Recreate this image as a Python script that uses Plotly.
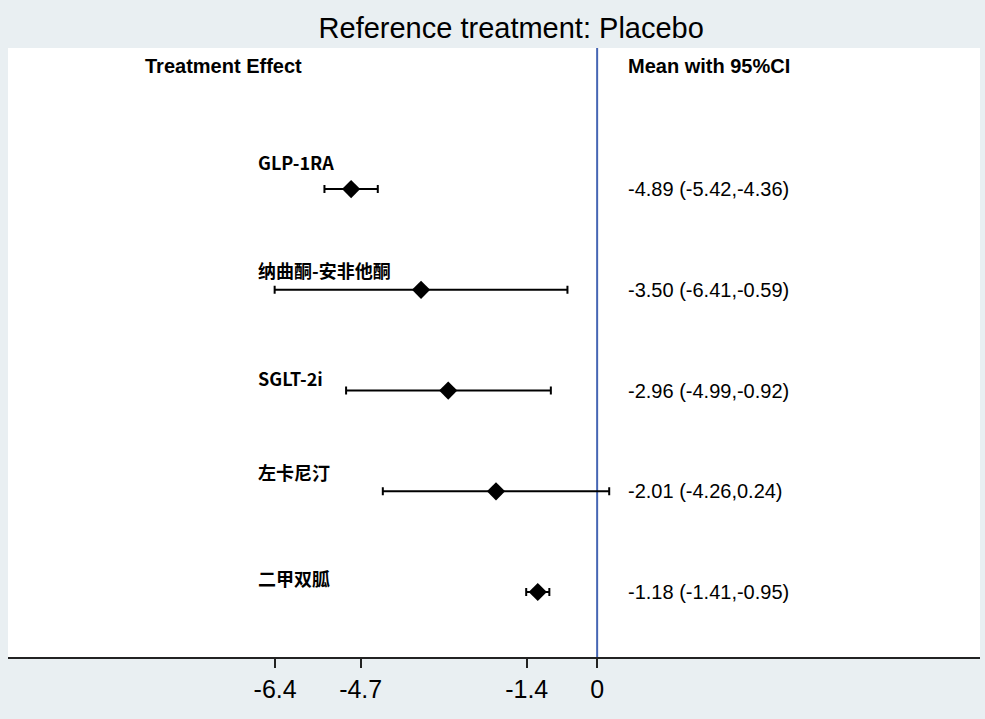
import plotly.graph_objects as go

treatments = ["GLP-1RA", "纳曲酮-安非他酮", "SGLT-2i", "左卡尼汀", "二甲双胍"]
means = [-4.89, -3.50, -2.96, -2.01, -1.18]
lower = [-5.42, -6.41, -4.99, -4.26, -1.41]
upper = [-4.36, -0.59, -0.92, 0.24, -0.95]
tick_vals = [-6.4, -4.7, -1.4, 0]
tick_text = ["-6.4", "-4.7", "-1.4", "0"]

n = len(treatments)
rows = [n - i for i in range(n)]
label_dy = [0.27, 0.20, 0.12, 0.19, 0.14]

latin = "Arial, Liberation Sans, sans-serif"
cjk = "Noto Sans CJK SC, sans-serif"

fig = go.Figure()
fig.add_trace(go.Scatter(
    x=means, y=rows, mode="markers",
    marker=dict(symbol="diamond", size=14, color="black"),
    error_x=dict(type="data", symmetric=False,
                 array=[u - m for u, m in zip(upper, means)],
                 arrayminus=[m - l for m, l in zip(means, lower)],
                 color="black", thickness=2, width=4),
    showlegend=False, hoverinfo="skip",
))

ann = []
for i, t in enumerate(treatments):
    ann.append(dict(x=-6.78, y=rows[i] + label_dy[i], xref="x", yref="y",
                    text=f"<b>{t}</b>", showarrow=False, xanchor="left", yanchor="middle",
                    font=dict(family=cjk, size=18, color="black")))
    ann.append(dict(x=0.577, y=rows[i], xref="x", yref="y",
                    text=f"{means[i]:.2f} ({lower[i]:.2f},{upper[i]:.2f})",
                    showarrow=False, xanchor="left", yanchor="middle",
                    font=dict(family=latin, size=20, color="black")))
ann.append(dict(x=-9.03, y=6.22, xref="x", yref="y", text="<b>Treatment Effect</b>",
                showarrow=False, xanchor="left", yanchor="middle",
                font=dict(family=latin, size=20, color="black")))
ann.append(dict(x=0.577, y=6.22, xref="x", yref="y", text="<b>Mean with 95%CI</b>",
                showarrow=False, xanchor="left", yanchor="middle",
                font=dict(family=latin, size=20, color="black")))

fig.update_layout(
    width=985, height=719,
    margin=dict(l=8, r=5, t=48, b=62),
    paper_bgcolor="#e9eff2", plot_bgcolor="white",
    title=dict(text="Reference treatment: Placebo", x=0.519, xanchor="center",
               y=0.961, yanchor="middle",
               font=dict(family=latin, size=29, color="black")),
    annotations=ann,
    shapes=[dict(type="line", xref="x", yref="paper", x0=0, x1=0, y0=0, y1=1,
                 line=dict(color="#4666b4", width=2), layer="below")],
    xaxis=dict(range=[-11.71, 7.61], tickvals=tick_vals, ticktext=tick_text,
               showgrid=False, zeroline=False, showline=True, linecolor="#222",
               linewidth=2, ticks="outside", ticklen=9, tickwidth=2, tickcolor="#222",
               tickfont=dict(family=latin, size=25, color="black"),
               ticklabelstandoff=0, fixedrange=True),
    yaxis=dict(range=[0.355, 6.40], visible=False, fixedrange=True),
)

fig.write_html("out.html", config={"displayModeBar": False},
               post_script="document.body.style.margin='0';")
